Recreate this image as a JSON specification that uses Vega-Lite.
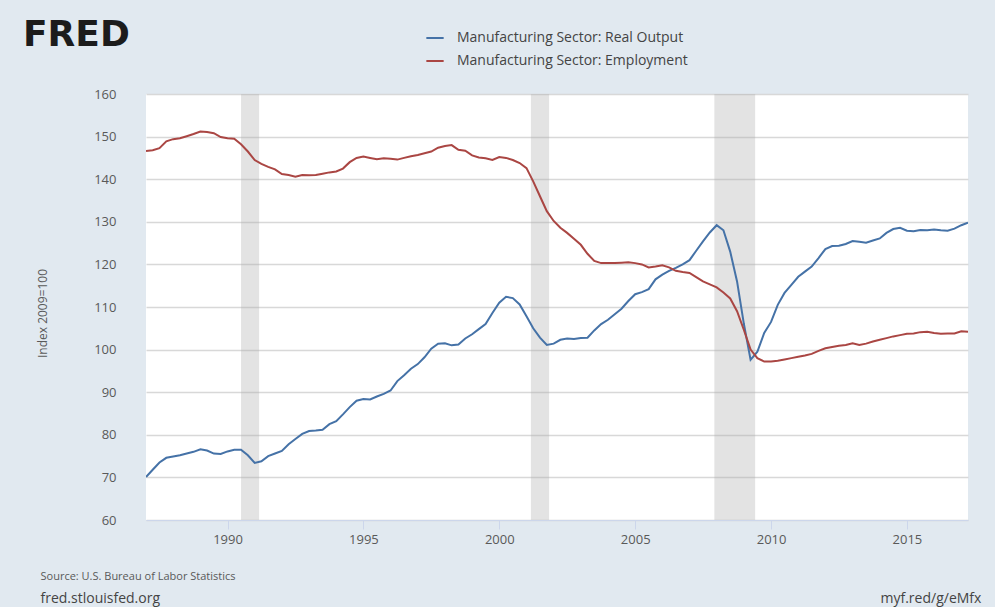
{
  "$schema": "https://vega.github.io/schema/vega-lite/v6.json",
  "width": 822,
  "height": 426,
  "autosize": "none",
  "padding": {"left": 146, "top": 94, "right": 27, "bottom": 87},
  "background": "#e1e9f0",
  "config": {
    "view": {"fill": "white", "stroke": null},
    "font": "Open Sans"
  },
  "title": {
    "text": "FRED",
    "orient": "top",
    "anchor": "start",
    "frame": "group",
    "dx": -123,
    "dy": 0,
    "offset": -26,
    "font": "DejaVu Sans",
    "fontSize": 36,
    "fontWeight": "bold",
    "color": "#1c1c1c"
  },
  "resolve": {"axis": {"x": "independent", "y": "independent"}},
  "layer": [
    {
      "data": {"values": [
        {"start": "1990-07-01", "end": "1991-03-01"},
        {"start": "2001-03-01", "end": "2001-11-01"},
        {"start": "2007-12-01", "end": "2009-06-01"}
      ]},
      "mark": {"type": "rect", "color": "#b0b0b0", "opacity": 0.35},
      "encoding": {
        "x": {"field": "start", "type": "temporal",
          "scale": {"domain": ["1987-01-01", "2017-04-01"]},
          "axis": {"orient": "top", "labels": false, "ticks": false, "domain": false, "grid": false,
            "title": "fred.stlouisfed.org", "titleX": -106, "titleY": 504, "titleAlign": "left", "titleAnchor": null,
            "titleBaseline": "middle", "titleFontSize": 14, "titleFontWeight": "normal", "titleColor": "#444444"}},
        "x2": {"field": "end"},
        "y": {"datum": 160, "type": "quantitative",
          "axis": {"orient": "right", "labels": false, "ticks": false, "domain": false, "grid": false,
            "title": "myf.red/g/eMfx", "titleAngle": 0, "titleX": -88, "titleY": 504, "titleAlign": "left",
            "titleBaseline": "middle", "titleFontSize": 14, "titleFontWeight": "normal", "titleColor": "#444444"}},
        "y2": {"datum": 60}
      }
    },
    {
      "data": {"values": [
        {"d":"1987-01-01","s":"Real Output","v":70.1},{"d":"1987-04-01","s":"Real Output","v":71.8},{"d":"1987-07-01","s":"Real Output","v":73.5},{"d":"1987-10-01","s":"Real Output","v":74.6},
        {"d":"1988-01-01","s":"Real Output","v":74.9},{"d":"1988-04-01","s":"Real Output","v":75.2},{"d":"1988-07-01","s":"Real Output","v":75.6},{"d":"1988-10-01","s":"Real Output","v":76.0},
        {"d":"1989-01-01","s":"Real Output","v":76.6},{"d":"1989-04-01","s":"Real Output","v":76.3},{"d":"1989-07-01","s":"Real Output","v":75.6},{"d":"1989-10-01","s":"Real Output","v":75.5},
        {"d":"1990-01-01","s":"Real Output","v":76.1},{"d":"1990-04-01","s":"Real Output","v":76.5},{"d":"1990-07-01","s":"Real Output","v":76.5},{"d":"1990-10-01","s":"Real Output","v":75.2},
        {"d":"1991-01-01","s":"Real Output","v":73.4},{"d":"1991-04-01","s":"Real Output","v":73.8},{"d":"1991-07-01","s":"Real Output","v":75.0},{"d":"1991-10-01","s":"Real Output","v":75.6},
        {"d":"1992-01-01","s":"Real Output","v":76.2},{"d":"1992-04-01","s":"Real Output","v":77.8},{"d":"1992-07-01","s":"Real Output","v":79.0},{"d":"1992-10-01","s":"Real Output","v":80.2},
        {"d":"1993-01-01","s":"Real Output","v":80.9},{"d":"1993-04-01","s":"Real Output","v":81.0},{"d":"1993-07-01","s":"Real Output","v":81.2},{"d":"1993-10-01","s":"Real Output","v":82.5},
        {"d":"1994-01-01","s":"Real Output","v":83.2},{"d":"1994-04-01","s":"Real Output","v":84.8},{"d":"1994-07-01","s":"Real Output","v":86.5},{"d":"1994-10-01","s":"Real Output","v":88.0},
        {"d":"1995-01-01","s":"Real Output","v":88.4},{"d":"1995-04-01","s":"Real Output","v":88.3},{"d":"1995-07-01","s":"Real Output","v":89.0},{"d":"1995-10-01","s":"Real Output","v":89.6},
        {"d":"1996-01-01","s":"Real Output","v":90.4},{"d":"1996-04-01","s":"Real Output","v":92.6},{"d":"1996-07-01","s":"Real Output","v":94.0},{"d":"1996-10-01","s":"Real Output","v":95.5},
        {"d":"1997-01-01","s":"Real Output","v":96.6},{"d":"1997-04-01","s":"Real Output","v":98.2},{"d":"1997-07-01","s":"Real Output","v":100.2},{"d":"1997-10-01","s":"Real Output","v":101.4},
        {"d":"1998-01-01","s":"Real Output","v":101.5},{"d":"1998-04-01","s":"Real Output","v":101.0},{"d":"1998-07-01","s":"Real Output","v":101.2},{"d":"1998-10-01","s":"Real Output","v":102.6},
        {"d":"1999-01-01","s":"Real Output","v":103.6},{"d":"1999-04-01","s":"Real Output","v":104.8},{"d":"1999-07-01","s":"Real Output","v":106.0},{"d":"1999-10-01","s":"Real Output","v":108.6},
        {"d":"2000-01-01","s":"Real Output","v":111.0},{"d":"2000-04-01","s":"Real Output","v":112.4},{"d":"2000-07-01","s":"Real Output","v":112.1},{"d":"2000-10-01","s":"Real Output","v":110.6},
        {"d":"2001-01-01","s":"Real Output","v":107.8},{"d":"2001-04-01","s":"Real Output","v":105.0},{"d":"2001-07-01","s":"Real Output","v":102.8},{"d":"2001-10-01","s":"Real Output","v":101.1},
        {"d":"2002-01-01","s":"Real Output","v":101.4},{"d":"2002-04-01","s":"Real Output","v":102.3},{"d":"2002-07-01","s":"Real Output","v":102.6},{"d":"2002-10-01","s":"Real Output","v":102.5},
        {"d":"2003-01-01","s":"Real Output","v":102.7},{"d":"2003-04-01","s":"Real Output","v":102.8},{"d":"2003-07-01","s":"Real Output","v":104.5},{"d":"2003-10-01","s":"Real Output","v":106.0},
        {"d":"2004-01-01","s":"Real Output","v":107.0},{"d":"2004-04-01","s":"Real Output","v":108.3},{"d":"2004-07-01","s":"Real Output","v":109.6},{"d":"2004-10-01","s":"Real Output","v":111.4},
        {"d":"2005-01-01","s":"Real Output","v":113.0},{"d":"2005-04-01","s":"Real Output","v":113.5},{"d":"2005-07-01","s":"Real Output","v":114.2},{"d":"2005-10-01","s":"Real Output","v":116.5},
        {"d":"2006-01-01","s":"Real Output","v":117.6},{"d":"2006-04-01","s":"Real Output","v":118.5},{"d":"2006-07-01","s":"Real Output","v":119.2},{"d":"2006-10-01","s":"Real Output","v":120.0},
        {"d":"2007-01-01","s":"Real Output","v":121.0},{"d":"2007-04-01","s":"Real Output","v":123.2},{"d":"2007-07-01","s":"Real Output","v":125.4},{"d":"2007-10-01","s":"Real Output","v":127.5},
        {"d":"2008-01-01","s":"Real Output","v":129.2},{"d":"2008-04-01","s":"Real Output","v":128.0},{"d":"2008-07-01","s":"Real Output","v":123.0},{"d":"2008-10-01","s":"Real Output","v":116.0},
        {"d":"2009-01-01","s":"Real Output","v":106.0},{"d":"2009-04-01","s":"Real Output","v":97.6},{"d":"2009-07-01","s":"Real Output","v":99.5},{"d":"2009-10-01","s":"Real Output","v":103.9},
        {"d":"2010-01-01","s":"Real Output","v":106.5},{"d":"2010-04-01","s":"Real Output","v":110.5},{"d":"2010-07-01","s":"Real Output","v":113.3},{"d":"2010-10-01","s":"Real Output","v":115.2},
        {"d":"2011-01-01","s":"Real Output","v":117.1},{"d":"2011-04-01","s":"Real Output","v":118.3},{"d":"2011-07-01","s":"Real Output","v":119.5},{"d":"2011-10-01","s":"Real Output","v":121.5},
        {"d":"2012-01-01","s":"Real Output","v":123.6},{"d":"2012-04-01","s":"Real Output","v":124.3},{"d":"2012-07-01","s":"Real Output","v":124.4},{"d":"2012-10-01","s":"Real Output","v":124.8},
        {"d":"2013-01-01","s":"Real Output","v":125.5},{"d":"2013-04-01","s":"Real Output","v":125.3},{"d":"2013-07-01","s":"Real Output","v":125.1},{"d":"2013-10-01","s":"Real Output","v":125.6},
        {"d":"2014-01-01","s":"Real Output","v":126.1},{"d":"2014-04-01","s":"Real Output","v":127.4},{"d":"2014-07-01","s":"Real Output","v":128.3},{"d":"2014-10-01","s":"Real Output","v":128.6},
        {"d":"2015-01-01","s":"Real Output","v":127.9},{"d":"2015-04-01","s":"Real Output","v":127.8},{"d":"2015-07-01","s":"Real Output","v":128.1},{"d":"2015-10-01","s":"Real Output","v":128.0},
        {"d":"2016-01-01","s":"Real Output","v":128.2},{"d":"2016-04-01","s":"Real Output","v":128.0},{"d":"2016-07-01","s":"Real Output","v":127.9},{"d":"2016-10-01","s":"Real Output","v":128.4},
        {"d":"2017-01-01","s":"Real Output","v":129.2},{"d":"2017-04-01","s":"Real Output","v":129.8},
        {"d":"1987-01-01","s":"Employment","v":146.6},{"d":"1987-04-01","s":"Employment","v":146.8},{"d":"1987-07-01","s":"Employment","v":147.3},{"d":"1987-10-01","s":"Employment","v":148.9},
        {"d":"1988-01-01","s":"Employment","v":149.4},{"d":"1988-04-01","s":"Employment","v":149.6},{"d":"1988-07-01","s":"Employment","v":150.1},{"d":"1988-10-01","s":"Employment","v":150.6},
        {"d":"1989-01-01","s":"Employment","v":151.2},{"d":"1989-04-01","s":"Employment","v":151.1},{"d":"1989-07-01","s":"Employment","v":150.8},{"d":"1989-10-01","s":"Employment","v":149.9},
        {"d":"1990-01-01","s":"Employment","v":149.6},{"d":"1990-04-01","s":"Employment","v":149.5},{"d":"1990-07-01","s":"Employment","v":148.2},{"d":"1990-10-01","s":"Employment","v":146.5},
        {"d":"1991-01-01","s":"Employment","v":144.5},{"d":"1991-04-01","s":"Employment","v":143.6},{"d":"1991-07-01","s":"Employment","v":142.9},{"d":"1991-10-01","s":"Employment","v":142.3},
        {"d":"1992-01-01","s":"Employment","v":141.2},{"d":"1992-04-01","s":"Employment","v":141.0},{"d":"1992-07-01","s":"Employment","v":140.6},{"d":"1992-10-01","s":"Employment","v":141.0},
        {"d":"1993-01-01","s":"Employment","v":140.9},{"d":"1993-04-01","s":"Employment","v":141.0},{"d":"1993-07-01","s":"Employment","v":141.3},{"d":"1993-10-01","s":"Employment","v":141.6},
        {"d":"1994-01-01","s":"Employment","v":141.8},{"d":"1994-04-01","s":"Employment","v":142.5},{"d":"1994-07-01","s":"Employment","v":144.0},{"d":"1994-10-01","s":"Employment","v":145.0},
        {"d":"1995-01-01","s":"Employment","v":145.3},{"d":"1995-04-01","s":"Employment","v":145.0},{"d":"1995-07-01","s":"Employment","v":144.7},{"d":"1995-10-01","s":"Employment","v":144.9},
        {"d":"1996-01-01","s":"Employment","v":144.8},{"d":"1996-04-01","s":"Employment","v":144.6},{"d":"1996-07-01","s":"Employment","v":145.0},{"d":"1996-10-01","s":"Employment","v":145.4},
        {"d":"1997-01-01","s":"Employment","v":145.7},{"d":"1997-04-01","s":"Employment","v":146.1},{"d":"1997-07-01","s":"Employment","v":146.5},{"d":"1997-10-01","s":"Employment","v":147.4},
        {"d":"1998-01-01","s":"Employment","v":147.8},{"d":"1998-04-01","s":"Employment","v":148.0},{"d":"1998-07-01","s":"Employment","v":146.9},{"d":"1998-10-01","s":"Employment","v":146.7},
        {"d":"1999-01-01","s":"Employment","v":145.6},{"d":"1999-04-01","s":"Employment","v":145.1},{"d":"1999-07-01","s":"Employment","v":144.9},{"d":"1999-10-01","s":"Employment","v":144.5},
        {"d":"2000-01-01","s":"Employment","v":145.2},{"d":"2000-04-01","s":"Employment","v":145.0},{"d":"2000-07-01","s":"Employment","v":144.5},{"d":"2000-10-01","s":"Employment","v":143.8},
        {"d":"2001-01-01","s":"Employment","v":142.6},{"d":"2001-04-01","s":"Employment","v":139.5},{"d":"2001-07-01","s":"Employment","v":136.0},{"d":"2001-10-01","s":"Employment","v":132.5},
        {"d":"2002-01-01","s":"Employment","v":130.2},{"d":"2002-04-01","s":"Employment","v":128.6},{"d":"2002-07-01","s":"Employment","v":127.4},{"d":"2002-10-01","s":"Employment","v":126.0},
        {"d":"2003-01-01","s":"Employment","v":124.6},{"d":"2003-04-01","s":"Employment","v":122.5},{"d":"2003-07-01","s":"Employment","v":120.8},{"d":"2003-10-01","s":"Employment","v":120.3},
        {"d":"2004-01-01","s":"Employment","v":120.3},{"d":"2004-04-01","s":"Employment","v":120.3},{"d":"2004-07-01","s":"Employment","v":120.4},{"d":"2004-10-01","s":"Employment","v":120.5},
        {"d":"2005-01-01","s":"Employment","v":120.3},{"d":"2005-04-01","s":"Employment","v":120.0},{"d":"2005-07-01","s":"Employment","v":119.3},{"d":"2005-10-01","s":"Employment","v":119.5},
        {"d":"2006-01-01","s":"Employment","v":119.8},{"d":"2006-04-01","s":"Employment","v":119.3},{"d":"2006-07-01","s":"Employment","v":118.5},{"d":"2006-10-01","s":"Employment","v":118.2},
        {"d":"2007-01-01","s":"Employment","v":118.0},{"d":"2007-04-01","s":"Employment","v":117.0},{"d":"2007-07-01","s":"Employment","v":116.0},{"d":"2007-10-01","s":"Employment","v":115.3},
        {"d":"2008-01-01","s":"Employment","v":114.6},{"d":"2008-04-01","s":"Employment","v":113.4},{"d":"2008-07-01","s":"Employment","v":112.0},{"d":"2008-10-01","s":"Employment","v":109.0},
        {"d":"2009-01-01","s":"Employment","v":104.6},{"d":"2009-04-01","s":"Employment","v":100.0},{"d":"2009-07-01","s":"Employment","v":98.0},{"d":"2009-10-01","s":"Employment","v":97.2},
        {"d":"2010-01-01","s":"Employment","v":97.2},{"d":"2010-04-01","s":"Employment","v":97.4},{"d":"2010-07-01","s":"Employment","v":97.7},{"d":"2010-10-01","s":"Employment","v":98.0},
        {"d":"2011-01-01","s":"Employment","v":98.3},{"d":"2011-04-01","s":"Employment","v":98.6},{"d":"2011-07-01","s":"Employment","v":99.0},{"d":"2011-10-01","s":"Employment","v":99.7},
        {"d":"2012-01-01","s":"Employment","v":100.3},{"d":"2012-04-01","s":"Employment","v":100.6},{"d":"2012-07-01","s":"Employment","v":100.9},{"d":"2012-10-01","s":"Employment","v":101.1},
        {"d":"2013-01-01","s":"Employment","v":101.5},{"d":"2013-04-01","s":"Employment","v":101.1},{"d":"2013-07-01","s":"Employment","v":101.4},{"d":"2013-10-01","s":"Employment","v":101.9},
        {"d":"2014-01-01","s":"Employment","v":102.3},{"d":"2014-04-01","s":"Employment","v":102.7},{"d":"2014-07-01","s":"Employment","v":103.1},{"d":"2014-10-01","s":"Employment","v":103.4},
        {"d":"2015-01-01","s":"Employment","v":103.7},{"d":"2015-04-01","s":"Employment","v":103.8},{"d":"2015-07-01","s":"Employment","v":104.1},{"d":"2015-10-01","s":"Employment","v":104.2},
        {"d":"2016-01-01","s":"Employment","v":103.9},{"d":"2016-04-01","s":"Employment","v":103.7},{"d":"2016-07-01","s":"Employment","v":103.8},{"d":"2016-10-01","s":"Employment","v":103.8},
        {"d":"2017-01-01","s":"Employment","v":104.3},{"d":"2017-04-01","s":"Employment","v":104.2}
      ]},
      "mark": {"type": "line", "strokeWidth": 2, "clip": true},
      "encoding": {
        "x": {"field": "d", "type": "temporal",
          "scale": {"domain": ["1987-01-01", "2017-04-01"]},
          "axis": {"orient": "bottom", "format": "%Y", "grid": false,
            "values": [{"year": 1990}, {"year": 1995}, {"year": 2000}, {"year": 2005}, {"year": 2010}, {"year": 2015}],
            "domain": true, "domainColor": "#ccd6eb", "domainWidth": 1,
            "ticks": true, "tickColor": "#ccd6eb", "tickSize": 9, "labelPadding": 4,
            "labelFontSize": 13, "labelColor": "#595959", "labelFont": "Open Sans",
            "title": "Source: U.S. Bureau of Labor Statistics", "titleX": -106, "titleY": 56,
            "titleAlign": "left", "titleBaseline": "middle", "titleFontSize": 11,
            "titleFontWeight": "normal", "titleColor": "#595959"}},
        "y": {"field": "v", "type": "quantitative",
          "scale": {"domain": [60, 160], "nice": false, "zero": false},
          "axis": {"orient": "left", "values": [60, 70, 80, 90, 100, 110, 120, 130, 140, 150, 160],
            "grid": true, "gridColor": "#d8d8d8", "gridWidth": 1.3,
            "domain": false, "ticks": false, "labelPadding": 30,
            "labelFontSize": 13, "labelColor": "#595959",
            "title": "Index 2009=100", "titleX": -104, "titleY": 219, "titleAngle": -90,
            "titleAlign": "center", "titleBaseline": "middle", "titleFontSize": 12,
            "titleFontWeight": "normal", "titleColor": "#595959"}},
        "color": {"field": "s", "type": "nominal",
          "scale": {"domain": ["Real Output", "Employment"], "range": ["#4572a7", "#aa4643"]},
          "legend": {"orient": "none", "legendX": 279, "legendY": -66, "title": null,
            "symbolType": "stroke", "symbolSize": 300, "symbolStrokeWidth": 2,
            "labelExpr": "'Manufacturing Sector: ' + datum.label", "labelLimit": 500,
            "labelFontSize": 14, "labelColor": "#444444", "labelFont": "Open Sans",
            "labelOffset": 12, "rowPadding": 6}}
      }
    }
  ]
}
